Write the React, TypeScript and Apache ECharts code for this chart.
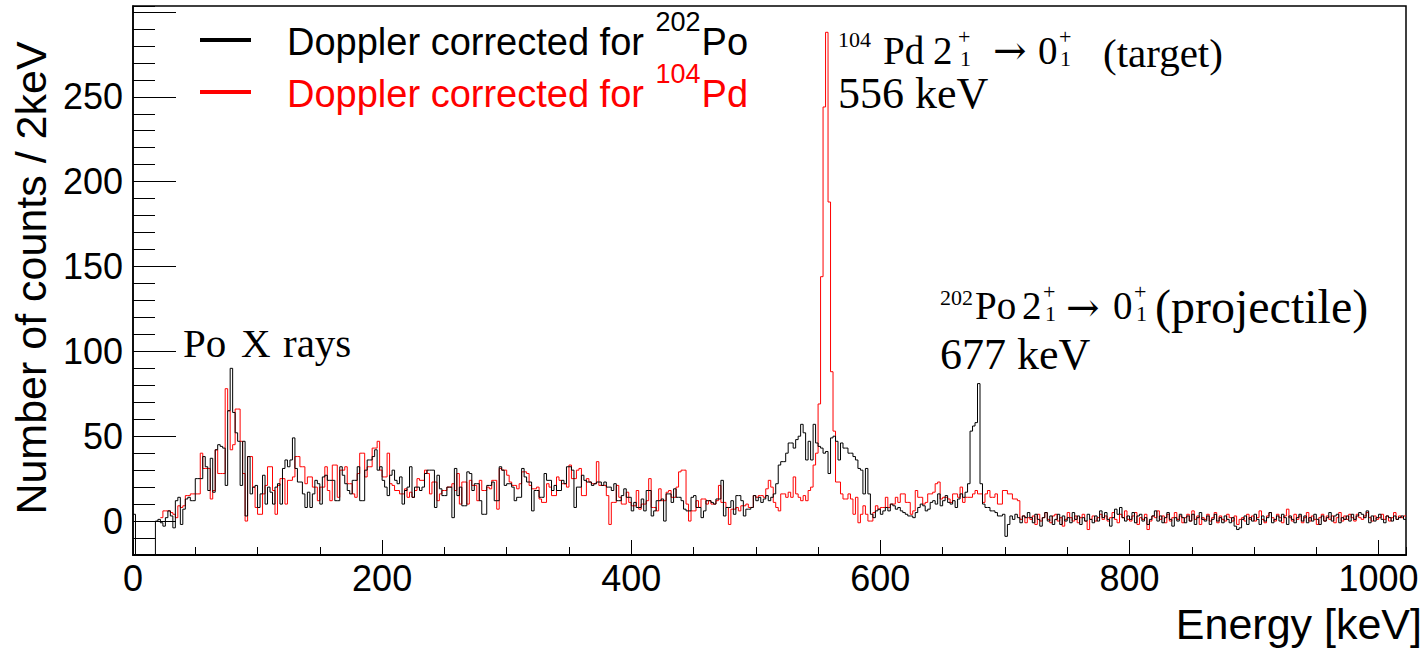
import React, { useEffect, useRef } from "react";
import * as echarts from "echarts";

// ---------- data (2 keV bins, value = counts in bin starting at index*2 keV) ----------
const BIN_WIDTH = 2;
const X_MIN = 0;
const X_MAX = 1022;
const Y_MIN = -20;
const Y_MAX = 303.5;

// Doppler corrected for 202Po (black)
const po202_0to198 = [
  4, -20, -20, -20, -20, -20, -20, -20, -20, 0,
  1, -1, -3, 2, 6, 3, -4, 12, 14, -2,
  7, 13, 14, 12, 12, 25, 25, 25, 38, 32,
  18, 37, 17, 42, 45, 44, 43, 21, 65, 90,
  64, 52, 47, 21, 47, 3, 38, 16, 20, 21,
  8, 16, 27, 10, 20, 17, 10, 20, 22, 10,
  31, 36, 32, 36, 49, 31, 23, 23, 16, 8,
  17, 8, 16, 24, 22, 10, 26, 27, 24, 24,
  24, 12, 12, 32, 27, 22, 18, 16, 24, 24,
  32, 12, 12, 30, 36, 36, 38, 42, 30, 32,
];
const po202_200to398 = [
  24, 20, 15, 27, 30, 24, 22, 26, 10, 18,
  20, 32, 14, 20, 20, 18, 20, 28, 30, 30,
  30, 8, 27, 19, 15, 15, 20, 20, 2, 31,
  15, 20, 9, 9, 29, 28, 18, 22, 22, 12,
  4, 4, 21, 21, 23, 12, 12, 32, 30, 21,
  22, 22, 20, 12, 14, 14, 31, 26, 23, 23,
  6, 18, 18, 14, 14, 28, 24, 24, 18, 21,
  18, 18, 24, 22, 32, 32, 30, 8, 20, 20,
  27, 24, 23, 23, 21, 22, 23, 23, 21, 23,
  20, 20, 18, 22, 12, 12, 15, 19, 14, 14,
];
const po202_400to598 = [
  6, 11, 8, 8, 13, 6, 18, 18, 3, 6,
  12, 12, 13, 0, 16, 16, 11, 19, 14, 14,
  12, 7, 6, 6, 14, 15, 8, 8, 2, 6,
  12, 12, 11, 10, 13, 13, 24, 3, 8, 8,
  12, 4, 15, 15, 12, 3, 7, 7, 8, 15,
  12, 14, 11, 13, 15, 12, 14, 16, 22, 33,
  35, 35, 40, 46, 46, 43, 48, 50, 57, 52,
  36, 47, 36, 57, 46, 44, 43, 40, 41, 28,
  49, 50, 47, 36, 46, 43, 43, 40, 40, 38,
  36, 31, 30, 16, 31, 16, 4, 2, 6, 7,
];
const po202_600to798 = [
  4, 6, 8, 6, 10, 9, 7, 8, 6, 5,
  4, 3, 3, 2, 5, 8, 10, 9, 6, 7,
  11, 12, 10, 16, 9, 12, 15, 11, 10, 12,
  8, 13, 16, 14, 17, 22, 53, 56, 58, 81,
  22, 10, 8, 8, 6, 6, 5, 3, 3, 4,
  -9, -2, 3, 1, 4, 2, -1, 3, 2, 5,
  2, -1, 4, 1, -3, 2, 5, 0, 3, -2,
  1, 4, -2, 3, 0, 2, -1, 5, 1, 3,
  -2, 2, 0, 4, 1, -1, 3, 0, 6, 2,
  5, 1, -3, 2, 7, 4, 8, 2, 0, 3,
];
const po202_800to1020 = [
  1, 5, -1, 3, 4, 0, 2, -2, 1, 3,
  6, 0, 3, -1, 2, 5, 1, -3, 2, 0,
  4, 2, -1, 3, 0, 4, -2, 2, 5, 1,
  0, 3, -2, 1, 4, 0, 2, -1, 3, 1,
  -1, 2, -3, -5, -4, 1, 3, -2, 2, 0,
  4, 1, -2, 3, 0, 2, 5, -1, 1, 3,
  0, 4, 2, -2, 3, 1, -1, 2, 4, 0,
  3, -1, 2, 0, 4, 1, -2, 3, 0, 2,
  5, 0, 3, 4, -1, 2, 1, 3, 0, 4,
  1, 3, 5, 4, 2, 6, -1, 3, 0, 2,
  4, 1, -1, 3, 2, 0, 3, 1, 2, 3,
  1,
];

// Doppler corrected for 104Pd (red)
const pd104_0to198 = [
  null, null, null, null, null, null, null, null, null, null,
  null, 2, 6, 6, 6, 5, 4, 2, 9, 8,
  9, 15, 15, 16, 16, 16, 16, 40, 31, 31,
  31, 13, 18, 42, 28, 28, 28, 78, 65, 42,
  45, 66, 66, 47, 28, 0, 38, 38, 20, 8,
  4, 4, 16, 21, 32, 32, 18, 4, 21, 25,
  25, 10, 24, 24, 26, 38, 38, 32, 32, 22,
  26, 26, 20, 20, 12, 20, 20, 32, 18, 12,
  33, 33, 14, 30, 30, 32, 22, 22, 16, 14,
  28, 40, 40, 26, 32, 32, 43, 43, 47, 30,
];
const pd104_200to398 = [
  26, 26, 40, 22, 21, 18, 18, 16, 16, 19,
  14, 17, 14, 18, 25, 24, 24, 30, 28, 16,
  23, 23, 12, 16, 18, 18, 20, 20, 22, 18,
  28, 10, 23, 23, 10, 24, 21, 21, 12, 24,
  18, 18, 20, 19, 24, 24, 7, 31, 30, 30,
  27, 23, 21, 21, 19, 22, 29, 29, 28, 21,
  19, 19, 20, 13, 11, 11, 22, 20, 15, 15,
  26, 24, 22, 22, 20, 33, 25, 25, 30, 31,
  15, 15, 25, 23, 22, 22, 35, 21, 21, 21,
  15, -2, 11, 11, 21, 14, 10, 10, 17, 11,
];
const pd104_400to598 = [
  9, 9, 18, 7, 10, 10, 12, 25, 8, 8,
  6, 19, 12, 12, 17, 18, 14, 14, 20, 29,
  30, 30, 10, 0, 6, 6, 12, 8, 13, 13,
  10, 12, 10, 10, 12, 21, 11, 11, 8, -2,
  7, 7, 8, 6, 9, 9, 10, 8, 8, 15,
  14, 15, 15, 14, 19, 24, 20, 11, 8, 6,
  16, 16, 14, 17, 14, 26, 16, 14, 12, 15,
  12, 18, 20, 33, 40, 69, 144, 244, 288, 188,
  88, 53, 23, 23, 16, 13, 13, 16, 13, 4,
  14, -1, 4, 9, 4, 0, 0, 5, 9, 7,
];
const pd104_600to798 = [
  8, 8, 14, 8, 10, 10, 14, 11, 16, 16,
  11, 11, 4, 6, 18, 14, 14, 10, 11, 16,
  16, 17, 22, 23, 13, 14, 14, 13, 11, 16,
  16, 14, 20, 11, 14, 14, 14, 16, 18, 16,
  16, 11, 16, 18, 14, 14, 16, 10, 10, 18,
  18, 16, 16, 13, 13, 12, 1, 3, -1, 2,
  1, 3, -2, 4, 0, 2, 5, 1, -1, 3,
  4, 0, 2, -3, 1, 5, 2, 0, 3, -1,
  2, 4, 0, -5, 1, 3, 0, 2, 4, 1,
  3, 0, 2, 5, 1, -1, 4, 2, 6, 1,
];
const pd104_800to1020 = [
  0, 3, 5, -2, 2, 1, 4, -5, 0, 3,
  2, 6, 1, 3, -1, 4, 0, 2, 5, 1,
  3, -1, 2, 4, 0, 6, 1, 3, -2, 2,
  1, 4, 0, 2, 5, -1, 3, 1, 0, 4,
  2, 0, 3, -2, 1, 2, 0, 4, 1, 3,
  0, 2, 6, 1, -1, 3, 5, 2, 0, 4,
  2, -1, 3, 7, 2, 0, 4, 1, 3, -1,
  2, 5, 0, 3, 1, -2, 2, 4, 0, 3,
  1, 3, -1, 2, 5, 0, 3, 1, 4, 2,
  0, 4, 2, 1, 3, 5, 2, 0, 3, 1,
  2, 4, 1, 3, 0, 2, 5, 1, 3, 2,
  3,
];

// ticks / labels
const xMinorStep = 50;
const xMajorTicks = [0, 200, 400, 600, 800, 1000];
const yMinorStep = 10;
const yMajorTicks = [0, 50, 100, 150, 200, 250, 300];
const yLabelValues = [0, 50, 100, 150, 200, 250];

const SANS = "'Liberation Sans', Arial, Helvetica, sans-serif";
const SERIF = "'Liberation Serif', 'Times New Roman', 'DejaVu Serif', serif";
const ARROW_FONT = "'DejaVu Serif', 'Liberation Serif', serif";

function toSteps(vals: (number | null)[]) {
  const pts: [number, number][] = [];
  let last: number | null = null;
  vals.forEach((v, i) => {
    if (v !== null) {
      pts.push([i * BIN_WIDTH, v]);
      last = v;
    }
  });
  if (last !== null) pts.push([vals.length * BIN_WIDTH, last]);
  return pts;
}

function textWidth(text: string, fontSize: number, family: string) {
  const ctx = document.createElement("canvas").getContext("2d");
  if (!ctx) return text.length * fontSize * 0.55;
  ctx.font = `${fontSize}px ${family}`;
  return ctx.measureText(text).width;
}

type Piece = { t: string; x: number; y: number; fs: number; font?: string };

function serifPieces(pieces: Piece[]) {
  return pieces.map((p) => ({
    type: "text",
    x: p.x,
    y: p.y,
    silent: true,
    z: 100,
    style: {
      text: p.t,
      fontSize: p.fs,
      fontFamily: p.font || SERIF,
      lineHeight: Math.round(p.fs * 0.9),
      fill: "#000",
      align: "left",
      verticalAlign: "middle",
    },
  }));
}

export default function App() {
  const ref = useRef<HTMLDivElement>(null);

  useEffect(() => {
    if (!ref.current) return;
    const chart = echarts.init(ref.current, null, { renderer: "svg" });

    const black = [
      ...po202_0to198,
      ...po202_200to398,
      ...po202_400to598,
      ...po202_600to798,
      ...po202_800to1020,
    ];
    const red = [
      ...pd104_0to198,
      ...pd104_200to398,
      ...pd104_400to598,
      ...pd104_600to798,
      ...pd104_800to1020,
    ];

    // legend layout
    const LEG_X = 287;
    const legendRows = [
      { y: 42, sup: "202", base: "Po", color: "#000000" },
      { y: 94, sup: "104", base: "Pd", color: "#ff0000" },
    ];
    const mainText = "Doppler corrected for ";
    const wMain = textWidth(mainText, 38, SANS);
    const legendEls: any[] = [];
    legendRows.forEach((r) => {
      legendEls.push({
        type: "line",
        silent: true,
        z: 100,
        shape: { x1: 200, y1: r.y - 2, x2: 251, y2: r.y - 2 },
        style: { stroke: r.color, lineWidth: 4 },
      });
      const wSup = textWidth(r.sup, 27, SANS);
      legendEls.push(
        {
          type: "text",
          x: LEG_X,
          y: r.y,
          silent: true,
          z: 100,
          style: { text: mainText, fontSize: 38, fontFamily: SANS, lineHeight: 30, fill: r.color, align: "left", verticalAlign: "middle" },
        },
        {
          type: "text",
          x: LEG_X + wMain + 1,
          y: r.y - 20,
          silent: true,
          z: 100,
          style: { text: r.sup, fontSize: 27, fontFamily: SANS, lineHeight: 20, fill: r.color, align: "left", verticalAlign: "middle" },
        },
        {
          type: "text",
          x: LEG_X + wMain + wSup + 2,
          y: r.y,
          silent: true,
          z: 100,
          style: { text: r.base, fontSize: 38, fontFamily: SANS, lineHeight: 30, fill: r.color, align: "left", verticalAlign: "middle" },
        }
      );
    });

    const targetNote = serifPieces([
      { t: "104", x: 838, y: 39.5, fs: 22 },
      { t: "Pd", x: 883, y: 50, fs: 39 },
      { t: "2", x: 933, y: 50, fs: 39 },
      { t: "+", x: 958, y: 36, fs: 22 },
      { t: "1", x: 960, y: 58.5, fs: 22 },
      { t: "\u2192", x: 993, y: 50, fs: 40, font: ARROW_FONT },
      { t: "0", x: 1038, y: 50, fs: 39 },
      { t: "+", x: 1059, y: 36, fs: 22 },
      { t: "1", x: 1060, y: 58.5, fs: 22 },
      { t: "(target)", x: 1103, y: 53, fs: 41 },
      { t: "556 keV", x: 838, y: 93.5, fs: 44 },
    ]);
    const projNote = serifPieces([
      { t: "202", x: 940, y: 297.5, fs: 22 },
      { t: "Po", x: 975, y: 305.5, fs: 39 },
      { t: "2", x: 1022, y: 305.5, fs: 39 },
      { t: "+", x: 1043, y: 291, fs: 22 },
      { t: "1", x: 1045, y: 313.5, fs: 22 },
      { t: "\u2192", x: 1066, y: 307, fs: 40, font: ARROW_FONT },
      { t: "0", x: 1113, y: 305.5, fs: 39 },
      { t: "+", x: 1134, y: 291, fs: 22 },
      { t: "1", x: 1136, y: 313.5, fs: 22 },
      { t: "(projectile)", x: 1155, y: 306, fs: 48 },
      { t: "677 keV", x: 940, y: 354, fs: 44 },
    ]);
    const xrayNote = serifPieces([
      { t: "Po", x: 183, y: 343, fs: 41 },
      { t: "X", x: 241, y: 343, fs: 41 },
      { t: "rays", x: 283, y: 343, fs: 41 },
    ]);

    const axisTitles = [
      {
        type: "text",
        x: 31,
        y: 278,
        rotation: Math.PI / 2,
        silent: true,
        style: {
          text: "Number of counts / 2keV",
          fontSize: 43,
          fontFamily: SANS,
          fill: "#000",
          align: "center",
          verticalAlign: "middle",
        },
      },
      {
        type: "text",
        x: 1422,
        y: 624,
        silent: true,
        style: {
          text: "Energy [keV]",
          fontSize: 43,
          fontFamily: SANS,
          fill: "#000",
          align: "right",
          verticalAlign: "middle",
        },
      },
    ];

    const plainNum = (v: number) => String(v);

    const option: any = {
      animation: false,
      backgroundColor: "#ffffff",
      grid: {
        left: 133,
        top: 6,
        right: 22,
        bottom: 95,
        show: true,
        borderColor: "#000",
        borderWidth: 1.5,
        backgroundColor: "transparent",
        containLabel: false,
      },
      xAxis: [
        {
          type: "value",
          position: "bottom",
          min: X_MIN,
          max: X_MAX,
          interval: xMinorStep,
          axisLine: { show: true, onZero: false, lineStyle: { color: "#000", width: 2 } },
          axisTick: { show: true, inside: true, length: 8, lineStyle: { color: "#000", width: 1 } },
          axisLabel: { show: false },
          splitLine: { show: false },
        },
        {
          type: "value",
          position: "bottom",
          min: X_MIN,
          max: X_MAX,
          interval: xMinorStep,
          axisLine: { show: false, onZero: false },
          axisTick: {
            show: true,
            inside: true,
            length: 15,
            customValues: xMajorTicks,
            lineStyle: { color: "#000", width: 1 },
          },
          axisLabel: {
            show: true,
            customValues: xMajorTicks,
            formatter: plainNum,
            fontSize: 36,
            fontFamily: SANS,
            color: "#000",
            margin: 5,
          },
          splitLine: { show: false },
        },
      ],
      yAxis: [
        {
          type: "value",
          position: "left",
          min: Y_MIN,
          max: Y_MAX,
          interval: yMinorStep,
          axisLine: { show: true, onZero: false, lineStyle: { color: "#000", width: 1.5 } },
          axisTick: { show: true, inside: true, length: 22, lineStyle: { color: "#000", width: 1 } },
          axisLabel: { show: false },
          splitLine: { show: false },
        },
        {
          type: "value",
          position: "left",
          min: Y_MIN,
          max: Y_MAX,
          interval: yMinorStep,
          axisLine: { show: false, onZero: false },
          axisTick: {
            show: true,
            inside: true,
            length: 43,
            customValues: yMajorTicks,
            lineStyle: { color: "#000", width: 1 },
          },
          axisLabel: {
            show: true,
            customValues: yLabelValues,
            formatter: plainNum,
            fontSize: 36,
            fontFamily: SANS,
            color: "#000",
            margin: 10,
          },
          splitLine: { show: false },
        },
      ],
      series: [
        {
          name: "Doppler corrected for 104Pd",
          type: "line",
          step: "end",
          xAxisIndex: 0,
          yAxisIndex: 0,
          data: toSteps(red),
          showSymbol: false,
          symbol: "none",
          silent: true,
          lineStyle: { color: "#ff0000", width: 1 },
          z: 2,
        },
        {
          name: "Doppler corrected for 202Po",
          type: "line",
          step: "end",
          xAxisIndex: 0,
          yAxisIndex: 0,
          data: toSteps(black),
          showSymbol: false,
          symbol: "none",
          silent: true,
          lineStyle: { color: "#000000", width: 1 },
          z: 3,
        },
      ],
      graphic: [...legendEls, ...targetNote, ...projNote, ...xrayNote, ...axisTitles],
    };

    chart.setOption(option);
    return () => chart.dispose();
  }, []);

  return (
    <div
      ref={ref}
      style={{ position: "fixed", left: 0, top: 0, width: 1428, height: 650, background: "#fff" }}
    />
  );
}
